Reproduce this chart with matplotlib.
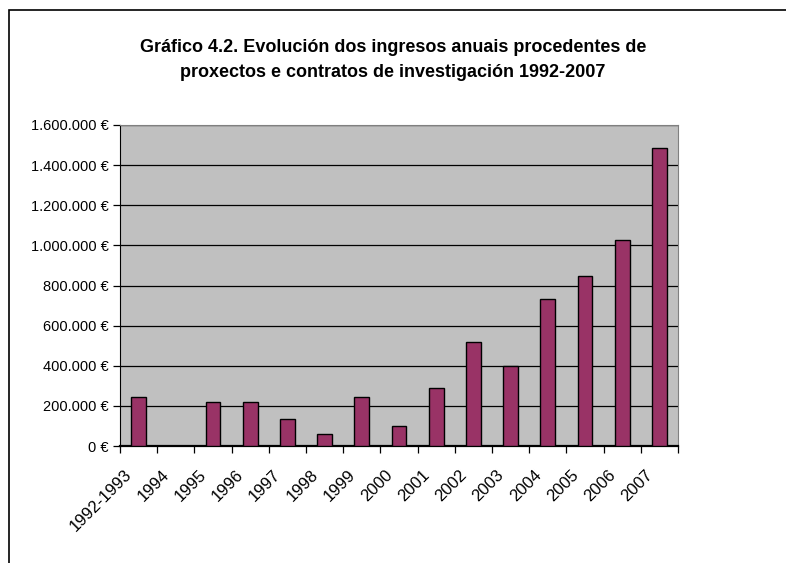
import numpy as np
import matplotlib.pyplot as plt
from matplotlib.patches import Rectangle
from matplotlib.ticker import FuncFormatter
from matplotlib.transforms import ScaledTranslation

plt.rcParams['font.family'] = ['Liberation Sans', 'DejaVu Sans']

years = ['1992-1993', '1994', '1995', '1996', '1997', '1998', '1999', '2000',
         '2001', '2002', '2003', '2004', '2005', '2006', '2007']
ingresos = [245000, 0, 221000, 221000, 134000, 62000, 245000, 99000,
            290000, 520000, 400000, 735000, 845000, 1025000, 1487000]

fig = plt.figure(figsize=(7.86, 5.63), dpi=100)
fig.patches.append(Rectangle((9 / 786, -0.1), 1.2, (563 - 10) / 563 + 0.1,
                             transform=fig.transFigure, fill=False,
                             edgecolor='black', linewidth=1.2))

ax = fig.add_axes([120 / 786, (563 - 446) / 563, 558 / 786, 321 / 563])
ax.set_facecolor('#C0C0C0')

x = np.arange(len(years))
ax.bar(x, ingresos, width=0.4, color='#993366', edgecolor='black', linewidth=1.0, zorder=3)

ax.set_xlim(-0.5, len(years) - 0.5)
ax.set_ylim(0, 1600000)
ax.set_yticks(np.arange(0, 1600001, 200000))
ax.yaxis.set_major_formatter(FuncFormatter(lambda v, p: '{:,.0f} €'.format(v).replace(',', '.')))
ax.grid(axis='y', color='black', linewidth=0.9, zorder=1)

ax.set_xticks(np.arange(-0.5, len(years), 1.0))
ax.set_xticklabels([])
ax.set_xticks(x, minor=True)
ax.set_xticklabels(years, minor=True, rotation=45, ha='right', va='center',
                   rotation_mode='anchor', fontsize=12)
ax.tick_params(axis='x', which='minor', length=0, pad=19)
ax.tick_params(axis='x', which='major', length=5, width=0.9, direction='out')
ax.tick_params(axis='y', length=5, width=0.9, direction='out', labelsize=10.5, pad=3)

shift = ScaledTranslation(-9 / 100, 0, fig.dpi_scale_trans)
for lab in ax.get_xticklabels(minor=True):
    lab.set_transform(lab.get_transform() + shift)

for s in ['top', 'right']:
    ax.spines[s].set_color('#808080')
ax.spines['left'].set_color('black')
ax.spines['bottom'].set_color('black')
ax.spines['bottom'].set_linewidth(1.6)

fig.text(0.5, 1 - 60 / 563, 'Gráfico 4.2. Evolución dos ingresos anuais procedentes de\n'
         'proxectos e contratos de investigación 1992-2007',
         ha='center', va='center', fontsize=13, fontweight='bold', linespacing=1.55)

fig.savefig('out.png', dpi=100)
